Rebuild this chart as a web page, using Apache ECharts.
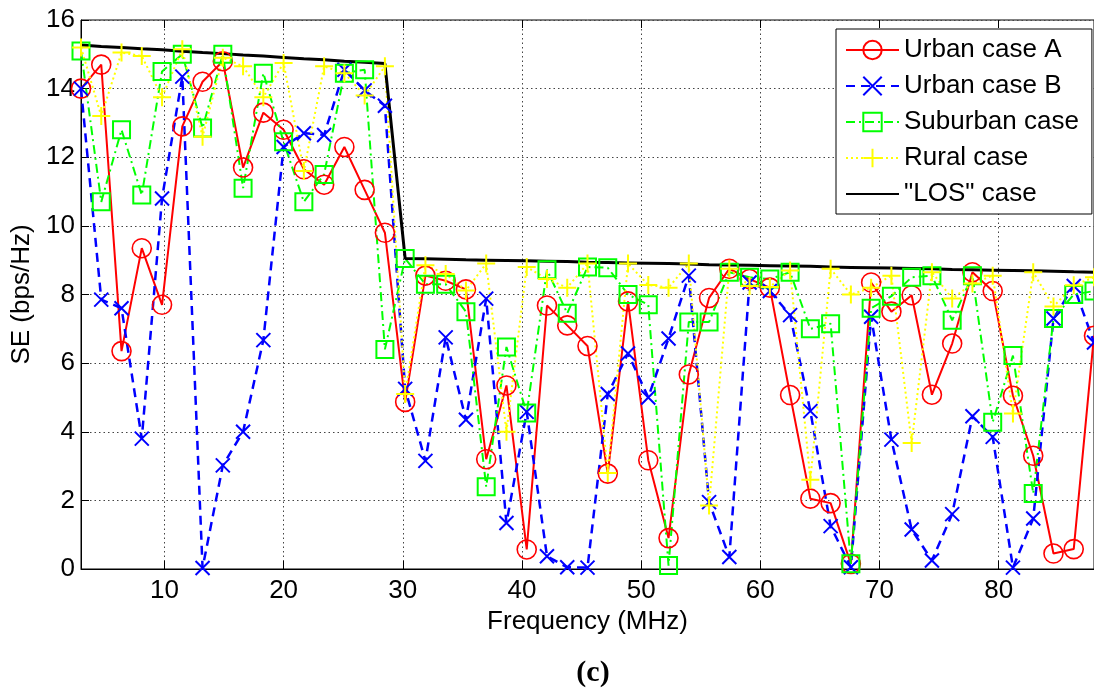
<!DOCTYPE html>
<html><head><meta charset="utf-8">
<script src="https://cdn.jsdelivr.net/npm/echarts@6/dist/echarts.min.js"></script>
<style>html,body{margin:0;padding:0;background:#fff}#c{width:1094px;height:692px}</style>
</head><body><div id="c"></div>
<script>
// Frequency (MHz)
const freq = [3, 4.7, 6.4, 8.1, 9.8, 11.5, 13.2, 14.9, 16.6, 18.3, 20, 21.7, 23.4, 25.1, 26.8, 28.5, 30.2, 31.9, 33.6, 35.3, 37, 38.7, 40.4, 42.1, 43.8, 45.5, 47.2, 48.9, 50.6, 52.3, 54, 55.7, 57.4, 59.1, 60.8, 62.5, 64.2, 65.9, 67.6, 69.3, 71, 72.7, 74.4, 76.1, 77.8, 79.5, 81.2, 82.9, 84.6, 86.3, 88];
const urbanA = [14.0, 14.7, 6.35, 9.35, 7.7, 12.9, 14.2, 14.8, 11.7, 13.3, 12.8, 11.65, 11.2, 12.3, 11.05, 9.8, 4.87, 8.55, 8.4, 8.15, 3.2, 5.35, 0.57, 7.68, 7.1, 6.5, 2.78, 7.8, 3.17, 0.9, 5.67, 7.9, 8.75, 8.45, 8.2, 5.07, 2.05, 1.92, 0.15, 8.35, 7.5, 7.98, 5.08, 6.57, 8.65, 8.1, 5.05, 3.3, 0.45, 0.58, 6.8];
const urbanB = [14.0, 7.85, 7.6, 3.8, 10.8, 14.35, 0.03, 3.02, 4.0, 6.67, 12.3, 12.7, 12.65, 14.55, 13.95, 13.5, 5.25, 3.15, 6.75, 4.35, 7.88, 1.34, 4.58, 0.37, 0.05, 0.04, 5.1, 6.28, 5.0, 6.72, 8.55, 1.95, 0.35, 8.35, 8.1, 7.4, 4.6, 1.25, 0.05, 7.35, 3.77, 1.15, 0.25, 1.6, 4.45, 3.85, 0.04, 1.47, 7.3, 8.25, 6.6];
const suburban = [15.1, 10.7, 12.8, 10.9, 14.5, 15.0, 12.85, 15.0, 11.1, 14.45, 12.45, 10.7, 11.5, 14.45, 14.55, 6.4, 9.05, 8.3, 8.3, 7.5, 2.4, 6.47, 4.55, 8.72, 7.45, 8.8, 8.78, 8.0, 7.7, 0.1, 7.2, 7.2, 8.65, 8.5, 8.45, 8.65, 7.0, 7.15, 0.15, 7.6, 7.95, 8.5, 8.55, 7.25, 8.55, 4.28, 6.22, 2.2, 7.3, 8.0, 8.1];
const rural = [15.2, 13.2, 15.05, 14.95, 13.75, 15.15, 12.6, 14.9, 14.65, 13.75, 14.75, 11.6, 14.65, 14.45, 13.8, 14.65, 5.1, 8.85, 8.6, 8.12, 8.9, 4.0, 8.8, 8.45, 8.2, 8.9, 2.8, 8.9, 8.28, 8.2, 8.9, 1.85, 8.75, 8.25, 8.22, 8.7, 2.6, 8.75, 8.0, 8.2, 8.55, 3.67, 8.65, 7.88, 8.32, 8.55, 4.53, 8.65, 7.65, 8.27, 8.5];
const los = [15.27, 15.23, 15.2, 15.16, 15.13, 15.09, 15.05, 15.02, 14.98, 14.95, 14.91, 14.87, 14.84, 14.8, 14.77, 14.73, 9.05, 9.04, 9.03, 9.01, 9.0, 8.99, 8.98, 8.97, 8.96, 8.94, 8.93, 8.92, 8.91, 8.9, 8.89, 8.87, 8.86, 8.85, 8.84, 8.83, 8.82, 8.8, 8.79, 8.78, 8.77, 8.76, 8.75, 8.73, 8.72, 8.71, 8.7, 8.69, 8.68, 8.66, 8.65];
const seriesNames = ['Urban case A', 'Urban case B', 'Suburban case', 'Rural case', '"LOS" case'];
const yTicks = [0, 2, 4, 6, 8, 10, 12, 14, 16];

const font = '"Liberation Sans", Arial, Helvetica, sans-serif';
const chart = echarts.init(document.getElementById('c'), null, {renderer: 'canvas'});
function pairs(ys) { return freq.map((f, i) => [f, ys[i]]); }
const clear = 'rgba(0,0,0,0)';
const X_PATH = 'path://M0,0L10,10M10,0L0,10';
const PLUS_PATH = 'path://M5,0L5,10M0,5L10,5';

const option = {
  animation: false,
  backgroundColor: '#fff',
  grid: {left: 81, right: -6, top: 20, height: 549, show: true, borderColor: '#000', borderWidth: 1, backgroundColor: clear, containLabel: false},
  xAxis: [{
    type: 'value', position: 'bottom', min: 3, max: 88, splitNumber: 8,
    name: 'Frequency (MHz)', nameLocation: 'middle', nameGap: 36,
    nameTextStyle: {fontSize: 26, fontFamily: font, color: '#000'},
    axisLine: {show: true, lineStyle: {color: '#000', width: 1}},
    axisTick: {show: true, inside: true, length: 8, lineStyle: {color: '#000'}},
    axisLabel: {fontSize: 26, fontFamily: font, color: '#000', margin: 9, showMinLabel: false, showMaxLabel: false},
    splitLine: {show: true, lineStyle: {type: [1.5, 3], color: '#444', width: 1}}
  }, {
    type: 'value', position: 'top', min: 3, max: 88, splitNumber: 8,
    axisLine: {show: false},
    axisTick: {show: true, inside: true, length: 8, lineStyle: {color: '#000'}},
    axisLabel: {show: false}, splitLine: {show: false}
  }],
  yAxis: {
    type: 'value', min: yTicks[0], max: yTicks[yTicks.length - 1], interval: 2,
    name: 'SE (bps/Hz)', nameLocation: 'middle', nameGap: 39,
    nameTextStyle: {fontSize: 26, fontFamily: font, color: '#000'},
    axisLine: {show: true, lineStyle: {color: '#000', width: 1}},
    axisTick: {show: true, inside: true, length: 8, lineStyle: {color: '#000'}},
    axisLabel: {fontSize: 26, fontFamily: font, color: '#000', margin: 6},
    splitLine: {show: true, lineStyle: {type: [1.5, 3], color: '#444', width: 1}}
  },
  legend: {
    orient: 'vertical', left: 836, top: 29, padding: [8, 13, 7, 9], itemGap: 10,
    itemWidth: 53, itemHeight: 23, backgroundColor: '#fff', borderColor: '#000', borderWidth: 1, borderRadius: 0,
    textStyle: {fontSize: 26, fontFamily: font, color: '#000'},
    data: seriesNames
  },
  graphic: [{
    type: 'text', x: 593, y: 673,
    style: {text: '(c)', font: 'bold 30px "Liberation Serif", "Times New Roman", serif', fill: '#000', textAlign: 'center', textVerticalAlign: 'middle'}
  }],
  series: [
    {name: seriesNames[0], type: 'line', data: pairs(urbanA), symbol: 'circle', symbolSize: 19, showAllSymbol: true,
     lineStyle: {color: '#ff0000', width: 2}, itemStyle: {color: clear, borderColor: '#ff0000', borderWidth: 1.6}, emphasis: {disabled: true}},
    {name: seriesNames[1], type: 'line', data: pairs(urbanB), symbol: X_PATH, symbolSize: 14, showAllSymbol: true,
     lineStyle: {color: '#0000ff', width: 2.5, type: [9, 6]}, itemStyle: {color: clear, borderColor: '#0000ff', borderWidth: 2}, emphasis: {disabled: true}},
    {name: seriesNames[2], type: 'line', data: pairs(suburban), symbol: 'rect', symbolSize: 17, showAllSymbol: true,
     lineStyle: {color: '#00ff00', width: 2, type: [9, 4, 2, 4]}, itemStyle: {color: clear, borderColor: '#00ff00', borderWidth: 2}, emphasis: {disabled: true}},
    {name: seriesNames[3], type: 'line', data: pairs(rural), symbol: PLUS_PATH, symbolSize: 18, showAllSymbol: true,
     lineStyle: {color: '#ffff00', width: 2, type: [2, 3]}, itemStyle: {color: clear, borderColor: '#ffff00', borderWidth: 2}, emphasis: {disabled: true}},
    {name: seriesNames[4], type: 'line', data: pairs(los), symbol: 'circle', symbolSize: 0, showSymbol: false,
     lineStyle: {color: '#000', width: 3}, itemStyle: {color: clear, borderColor: clear, borderWidth: 0}, emphasis: {disabled: true}}
  ]
};
chart.setOption(option);
</script></body></html>
